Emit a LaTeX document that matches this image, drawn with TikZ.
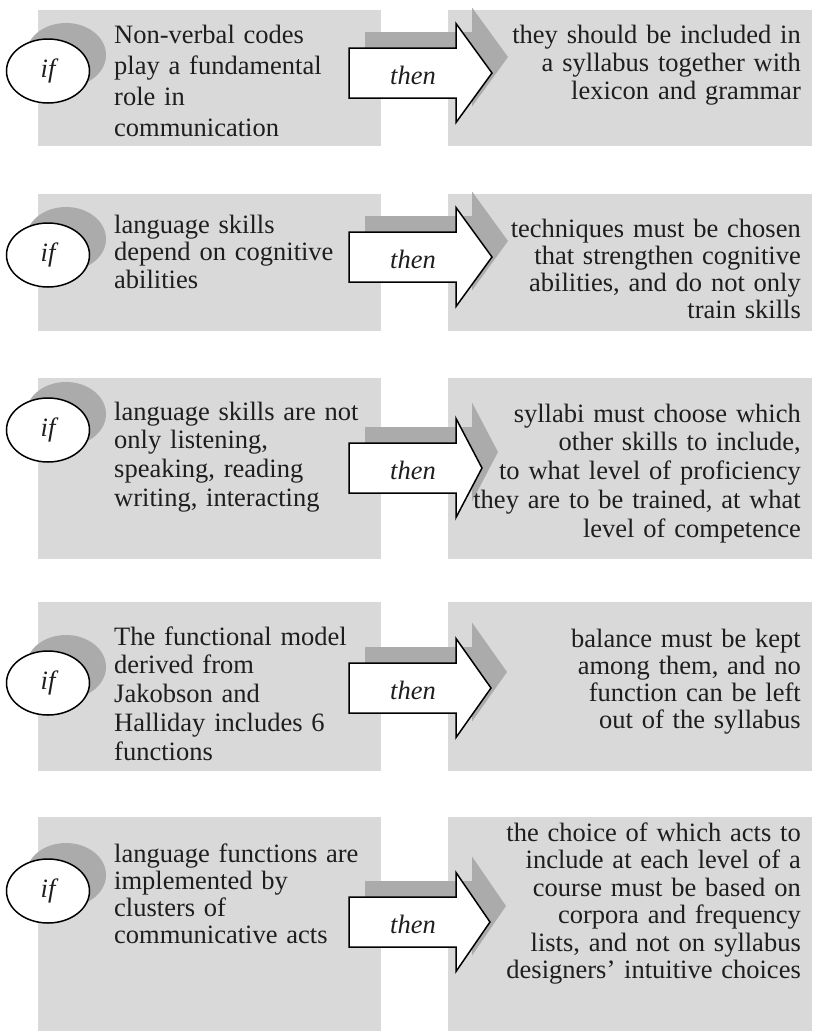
\documentclass[tikz,border=0pt]{standalone}
\usepackage{fontspec}
\setmainfont{Liberation Serif}
\usetikzlibrary{shapes.geometric}
\definecolor{panelgray}{HTML}{D9D9D9}
\definecolor{shadegray}{HTML}{ABABAB}
\definecolor{inkgray}{HTML}{1E1E1E}

% one "then" arrow: #1 = vertical centre, #2 = tip x, #3 = name of its label
\newcommand\thenarrow[3]{%
  \fill[shadegray,shift={(16,-16)}]
    (349,{#1-25}) -- (456,{#1-25}) -- (456,{#1-49.5}) -- (#2,#1)
    -- (456,{#1+49.5}) -- (456,{#1+25}) -- (349,{#1+25}) -- cycle;
  \draw[arrowline]
    (349,{#1-25}) -- (456,{#1-25}) -- (456,{#1-49.5}) -- (#2,#1)
    -- (456,{#1+49.5}) -- (456,{#1+25}) -- (349,{#1+25}) -- cycle;
  \node[thenlabel] (#3) at (413,{#1+2}) {then};%
}

\begin{document}
\begin{tikzpicture}[x=1pt,y=-1pt,
  panel/.style={fill=panelgray,draw=none},
  ifnode/.style={ellipse,draw=black,line width=1.5pt,fill=white,
    minimum width=83pt,minimum height=64pt,inner sep=0pt,
    text=inkgray,font=\fontsize{26.5}{30}\selectfont\itshape},
  ifshadow/.style={ellipse,fill=shadegray,minimum width=80pt,
    minimum height=64pt,inner sep=0pt},
  arrowline/.style={draw=black,fill=white,line width=1.5pt,line join=miter},
  thenlabel/.style={inner sep=0pt,text=inkgray,
    font=\fontsize{26.5}{30}\selectfont\itshape},
  lefttext/.style={anchor=base west,text width=275pt,align=left,
    inner sep=0pt,text=inkgray,font=\fontsize{26.5}{#1}\selectfont},
  righttext/.style={anchor=base east,text width=340pt,align=right,
    inner sep=0pt,text=inkgray,font=\fontsize{26.5}{#1}\selectfont}
]
\useasboundingbox (0,0) rectangle (812,1031);

% grey panels: condition on the left, consequence on the right
\fill[panel] (38,10)  rectangle (381,146);   \fill[panel] (448,10)  rectangle (812,146);
\fill[panel] (38,194) rectangle (381,331);   \fill[panel] (448,194) rectangle (812,331);
\fill[panel] (38,378) rectangle (381,559);   \fill[panel] (448,378) rectangle (812,559);
\fill[panel] (38,602) rectangle (381,771);   \fill[panel] (448,602) rectangle (812,771);
\fill[panel] (38,817) rectangle (381,1031);  \fill[panel] (448,817) rectangle (812,1031);

% "if" ellipses with their drop shadows
\foreach \cy [count=\i] in {71,255,430,683,891} {
  \node[ifshadow] (s\i) at (66,{\cy-16}) {};
  \node[ifnode] (c\i) at (48,\cy) {if};
}

% "then" arrows
\thenarrow{73}{492}{t1}
\thenarrow{257}{492}{t2}
\thenarrow{468}{482}{t3}
\thenarrow{688}{491}{t4}
\thenarrow{922}{490}{t5}

% conditions
\node[lefttext=31] (l1) at (114,43)
  {Non-verbal codes\\play a fundamental\\role in\\communication};
\node[lefttext=27.5] (l2) at (114,233)
  {language skills\\depend on cognitive\\abilities};
\node[lefttext=28.9] (l3) at (114,420)
  {language skills are not\\only listening,\\speaking, reading\\writing, interacting};
\node[lefttext=28.75] (l4) at (114,645)
  {The functional model\\derived from\\Jakobson and\\Halliday includes 6\\functions};
\node[lefttext=27.1] (l5) at (114,862)
  {language functions are\\implemented by\\clusters of\\communicative acts};

% consequences
\node[righttext=28.3] (r1) at (801,43)
  {they should be included in\\a syllabus together with\\lexicon and grammar};
\node[righttext=27.2] (r2) at (801,237)
  {techniques must be chosen\\that strengthen cognitive\\abilities, and do not only\\train skills};
\node[righttext=28.75] (r3) at (801,422)
  {syllabi must choose which\\other skills to include,\\to what level of proficiency\\they are to be trained, at what\\level of competence};
\node[righttext=27] (r4) at (801,647)
  {balance must be kept\\among them, and no\\function can be left\\out of the syllabus};
\node[righttext=27.5] (r5) at (801,841)
  {the choice of which acts to\\include at each level of a\\course must be based on\\corpora and frequency\\lists, and not on syllabus\\designers’ intuitive choices};
\end{tikzpicture}
\end{document}
